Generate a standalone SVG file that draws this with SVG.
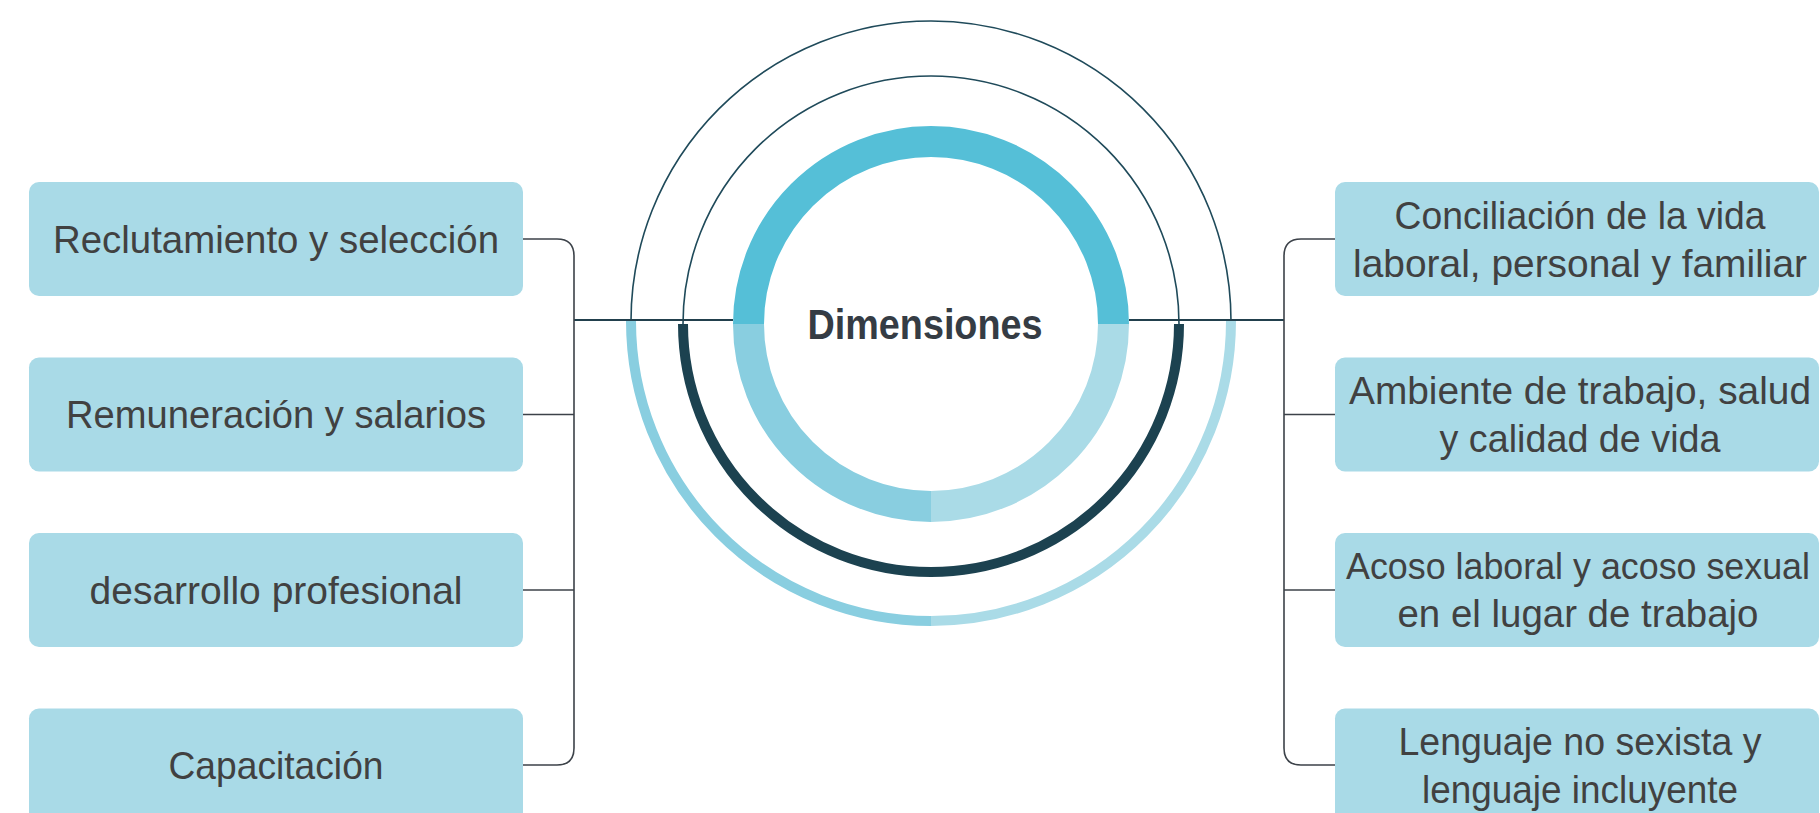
<svg xmlns="http://www.w3.org/2000/svg" width="1820" height="813" viewBox="0 0 1820 813">
<style>
.box{fill:#A9DAE7}
.t{font-family:"Liberation Sans",Arial,sans-serif;font-size:39px;fill:#414141;text-anchor:middle}
.title{font-family:"Liberation Sans",Arial,sans-serif;font-size:42px;font-weight:bold;fill:#353c44;text-anchor:middle}
.conn{fill:none;stroke:#3c4249;stroke-width:1.6}
.main{fill:none;stroke:#22404d;stroke-width:2.2}
.thin{fill:none;stroke:#1f4a5a;stroke-width:1.6}
</style>
<rect width="1820" height="813" fill="#ffffff"/>
<g id="center">
  <path class="thin" d="M631,321 A300,300 0 0 1 1231,321"/>
  <path class="thin" d="M683,324 A248,248 0 0 1 1179,324"/>
  <path d="M631,320 A300,300 0 0 0 931,621" fill="none" stroke="#89CEE0" stroke-width="10"/>
  <path d="M931,621 A300,300 0 0 0 1231,320" fill="none" stroke="#AADBE7" stroke-width="10"/>
  <path d="M683,324 A248,248 0 0 0 1179,324" fill="none" stroke="#1C4250" stroke-width="10"/>
  <path d="M748.5,324 A182.5,182.5 0 0 1 1113.5,324" fill="none" stroke="#55BFD7" stroke-width="31"/>
  <path d="M748.5,324 A182.5,182.5 0 0 0 931,506.5" fill="none" stroke="#89CEE0" stroke-width="31"/>
  <path d="M931,506.5 A182.5,182.5 0 0 0 1113.5,324" fill="none" stroke="#AADBE7" stroke-width="31"/>
  <text class="title" x="925" y="339" textLength="235" lengthAdjust="spacingAndGlyphs">Dimensiones</text>
</g>
<g id="connectors">
  <path class="main" d="M574,320 H733"/>
  <path class="main" d="M1129,320 H1284"/>
  <path class="conn" d="M523,239 H557 Q574,239 574,256 V748 Q574,765 557,765 H523"/>
  <path class="conn" d="M523,414.5 H574"/>
  <path class="conn" d="M523,590 H574"/>
  <path class="conn" d="M1335,239 H1301 Q1284,239 1284,256 V748 Q1284,765 1301,765 H1335"/>
  <path class="conn" d="M1335,414.5 H1284"/>
  <path class="conn" d="M1335,590 H1284"/>
</g>
<g id="n1">
  <rect class="box" x="29" y="182" width="494" height="114" rx="10"/>
  <text class="t" x="276" y="253" textLength="446" lengthAdjust="spacingAndGlyphs">Reclutamiento y selección</text>
</g>
<g id="n2">
  <rect class="box" x="29" y="357.5" width="494" height="114" rx="10"/>
  <text class="t" x="276" y="428" textLength="420" lengthAdjust="spacingAndGlyphs">Remuneración y salarios</text>
</g>
<g id="n3">
  <rect class="box" x="29" y="533" width="494" height="114" rx="10"/>
  <text class="t" x="276" y="604" textLength="373" lengthAdjust="spacingAndGlyphs">desarrollo profesional</text>
</g>
<g id="n4">
  <rect class="box" x="29" y="708.5" width="494" height="114" rx="10"/>
  <text class="t" x="276" y="779" textLength="215" lengthAdjust="spacingAndGlyphs">Capacitación</text>
</g>
<g id="n5">
  <rect class="box" x="1335" y="182" width="484" height="114" rx="10"/>
  <text class="t" x="1580" y="229" textLength="371" lengthAdjust="spacingAndGlyphs">Conciliación de la vida</text>
  <text class="t" x="1580" y="277" textLength="454" lengthAdjust="spacingAndGlyphs">laboral, personal y familiar</text>
</g>
<g id="n6">
  <rect class="box" x="1335" y="357.5" width="484" height="114" rx="10"/>
  <text class="t" x="1580" y="404" textLength="462" lengthAdjust="spacingAndGlyphs">Ambiente de trabajo, salud</text>
  <text class="t" x="1580" y="452" textLength="281" lengthAdjust="spacingAndGlyphs">y calidad de vida</text>
</g>
<g id="n7">
  <rect class="box" x="1335" y="533" width="484" height="114" rx="10"/>
  <text class="t" x="1578" y="579" style="font-size:36px" textLength="464" lengthAdjust="spacingAndGlyphs">Acoso laboral y acoso sexual</text>
  <text class="t" x="1578" y="627" textLength="361" lengthAdjust="spacingAndGlyphs">en el lugar de trabajo</text>
</g>
<g id="n8">
  <rect class="box" x="1335" y="708.5" width="484" height="114" rx="10"/>
  <text class="t" x="1580" y="755" textLength="363" lengthAdjust="spacingAndGlyphs">Lenguaje no sexista y</text>
  <text class="t" x="1580" y="803" textLength="316" lengthAdjust="spacingAndGlyphs">lenguaje incluyente</text>
</g>
</svg>
